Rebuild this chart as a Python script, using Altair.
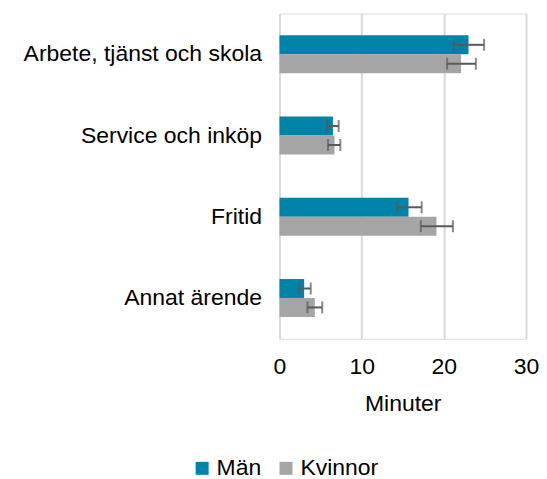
import altair as alt
import pandas as pd

categories = ["Arbete, tjänst och skola", "Service och inköp", "Fritid", "Annat ärende"]
series = ["Män", "Kvinnor"]
man_values = [23.0, 6.5, 15.7, 3.0]
man_low = [21.2, 5.8, 14.3, 2.4]
man_high = [24.9, 7.2, 17.3, 3.8]
kv_values = [22.1, 6.7, 19.1, 4.3]
kv_low = [20.4, 5.9, 17.2, 3.4]
kv_high = [23.9, 7.4, 21.1, 5.2]
x_ticks = [0, 10, 20, 30]

rows = []
for i, c in enumerate(categories):
    rows.append({"cat": c, "kon": "Män", "v": man_values[i], "lo": man_low[i], "hi": man_high[i]})
    rows.append({"cat": c, "kon": "Kvinnor", "v": kv_values[i], "lo": kv_low[i], "hi": kv_high[i]})
df = pd.DataFrame(rows)

FONT = "Liberation Sans"
FS = 23

xscale = alt.Scale(domain=[0, 30], nice=False)
x_axis = alt.Axis(title="Minuter", values=x_ticks, grid=True, labelOverlap=False, labelFlush=False,
                  gridColor="#D9D9D9", gridWidth=2, domain=False, ticks=False,
                  labelFontSize=FS, labelFont=FONT, labelColor="#000000",
                  labelPadding=17, titleFontSize=FS, titleFont=FONT,
                  titleFontWeight="normal", titleColor="#000000", titlePadding=14)
y_enc = alt.Y("cat:N", sort=categories,
              scale=alt.Scale(paddingInner=0.534, paddingOuter=0.27),
              axis=alt.Axis(title=None, ticks=False, domain=False, labelFontSize=FS,
                            labelFont=FONT, labelColor="#000000", labelPadding=18,
                            minExtent=272, maxExtent=272, labelLimit=300))
yoff = alt.YOffset("kon:N", sort=series, scale=alt.Scale(domain=series, paddingInner=0, paddingOuter=0))

bars = alt.Chart(df).mark_bar().encode(
    x=alt.X("v:Q", scale=xscale, axis=x_axis, title="Minuter"),
    y=y_enc,
    yOffset=yoff,
    color=alt.Color("kon:N", sort=series,
                    scale=alt.Scale(domain=series, range=["#0083A8", "#A5A5A5"]),
                    legend=alt.Legend(title=None, orient="none", direction="horizontal",
                                      legendX=-89, legendY=444, symbolType="square",
                                      symbolSize=169, symbolStrokeWidth=0,
                                      labelFontSize=FS, labelFont=FONT, labelColor="#000000",
                                      labelOffset=3, columnPadding=13)),
)

err = alt.Chart(df).mark_rule(color="#595959", strokeWidth=2).encode(
    x=alt.X("lo:Q", scale=xscale, axis=x_axis, title="Minuter"), x2="hi:Q", y=y_enc, yOffset=yoff)

caps_lo = alt.Chart(df).mark_tick(color="#595959", thickness=2, size=12).encode(
    x=alt.X("lo:Q", scale=xscale, axis=x_axis, title="Minuter"), y=y_enc, yOffset=yoff)
caps_hi = alt.Chart(df).mark_tick(color="#595959", thickness=2, size=12).encode(
    x=alt.X("hi:Q", scale=xscale, axis=x_axis, title="Minuter"), y=y_enc, yOffset=yoff)

chart = alt.layer(bars, err, caps_lo, caps_hi).properties(
    width=247, height=326,
    padding={"left": 0, "top": 5, "right": 0, "bottom": 0}
).configure_view(stroke=None).configure(background="#FFFFFF")

chart.save("out.html", embed_options={"renderer": "svg", "actions": False})
